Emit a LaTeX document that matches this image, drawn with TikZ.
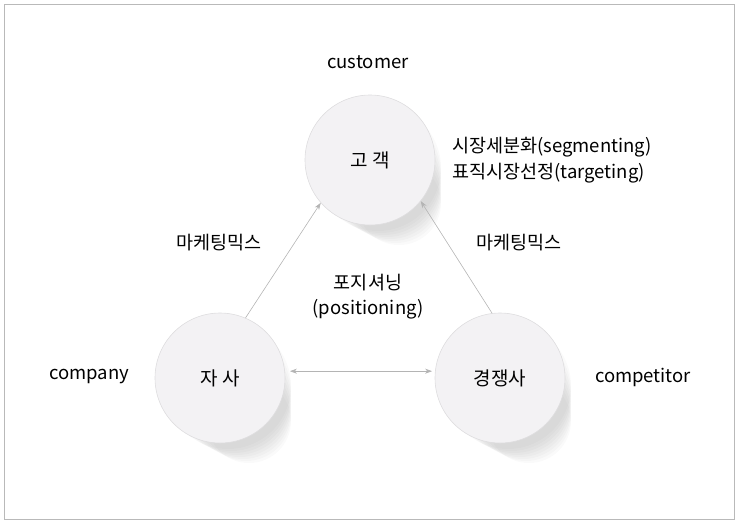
\documentclass[tikz,border=0pt]{standalone}
\usepackage{fontspec}
\setmainfont{Noto Sans CJK KR}
\usepackage{tikz}
\usetikzlibrary{arrows.meta, positioning, calc}
\definecolor{circlegray}{RGB}{243, 242, 244}
\definecolor{ringgray}{RGB}{222, 221, 223}
\definecolor{arrowgray}{RGB}{180, 180, 180}
\definecolor{framegray}{RGB}{185, 185, 185}

\begin{document}
\begin{tikzpicture}[x=1pt, y=-1pt,
    circ/.style={circle, minimum size=130pt, inner sep=0pt, fill=circlegray, draw=ringgray, line width=0.6pt, font=\fontsize{19}{22}\selectfont},
    lbl/.style={font=\fontsize{18.5}{21}\selectfont, inner sep=1pt},
    link/.style={arrowgray, line width=0.6pt, -{Stealth[length=7pt, width=5pt]}}]
\useasboundingbox (0,0) rectangle (738,523);
\draw[framegray, line width=0.6pt] (4,4) rectangle (734,519);

% soft shadows under the circles
\foreach \cx/\cy in {370/160, 220/378, 500/378} {
    \foreach \k in {0,...,7}
        \fill[black, opacity=0.02] (\cx+8+3*\k, \cy+8+5*\k) circle (63-3*\k);
}

% the three circles
\node[circ] (cust) at (370,160) {고 객};
\node[circ] (comp) at (220,378) {자 사};
\node[circ] (rival) at (500,378) {경쟁사};

% connectors
\draw[link] (comp.67) -- (cust.221);
\draw[link] (rival.97) -- (cust.321);
\draw[link, {Stealth[length=7pt, width=5pt]}-{Stealth[length=7pt, width=5pt]}, shorten <=5pt, shorten >=3pt] (comp.6) -- (rival.174);

% labels
\node[lbl] (custname) at (368,62) {customer};
\node[lbl, anchor=west] (seg) at (451,147) {시장세분화(segmenting)};
\node[lbl, anchor=west] (tgt) at (451,173) {표직시장선정(targeting)};
\node[lbl] (mixleft) at (219,243) {마케팅믹스};
\node[lbl] (mixright) at (519,243) {마케팅믹스};
\node[lbl] (pos) at (368,283) {포지셔닝};
\node[lbl] (posen) at (368,309) {(positioning)};
\node[lbl] (compname) at (89,377) {company};
\node[lbl] (rivalname) at (643,377) {competitor};
\end{tikzpicture}
\end{document}
